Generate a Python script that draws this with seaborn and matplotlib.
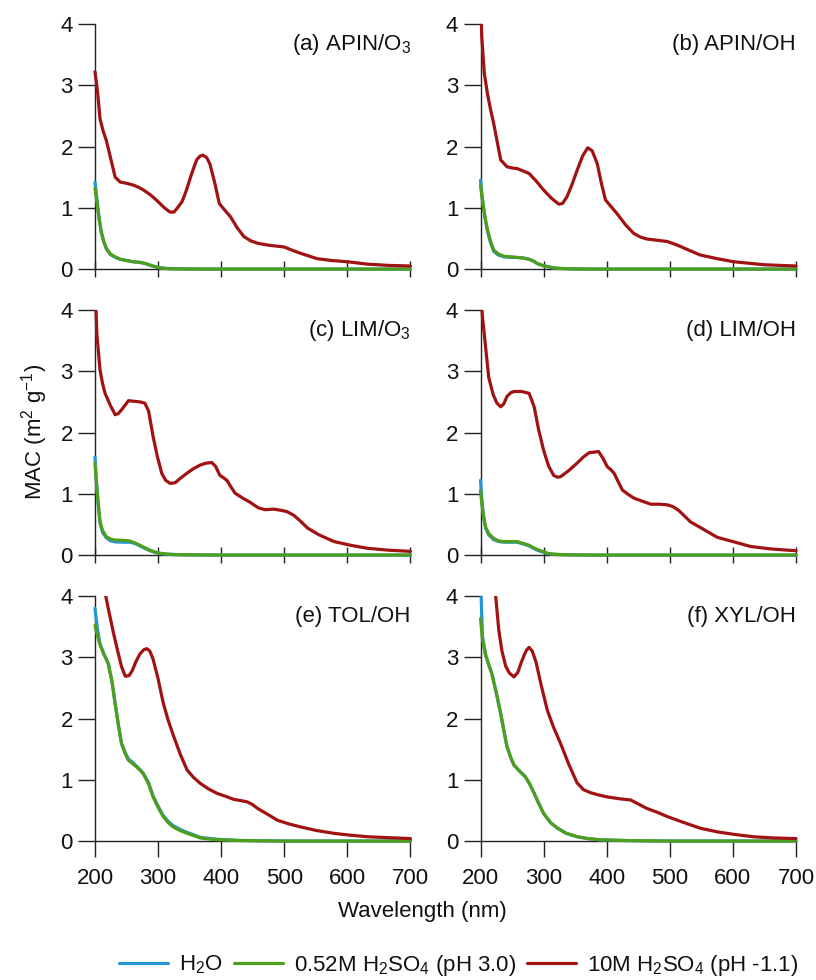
import matplotlib
matplotlib.use("Agg")
import matplotlib.pyplot as plt
from matplotlib.lines import Line2D
from matplotlib.transforms import Bbox, TransformedBbox
import numpy as np
import pandas as pd
import seaborn as sns

# ---- data (wavelength in nm, MAC in m2/g) ----
series_names = ['H$_2$O', '0.52M H$_2$SO$_4$ (pH 3.0)', '10M H$_2$SO$_4$ (pH -1.1)']
panel_titles = ['(a) APIN/O$_3$', '(b) APIN/OH', '(c) LIM/O$_3$',
                '(d) LIM/OH', '(e) TOL/OH', '(f) XYL/OH']

# (a) APIN/O3
a_wl = [200, 203, 206, 210, 214, 218, 224, 232, 240, 250, 260, 271, 280, 287, 295, 303, 315, 330, 360, 400, 500, 700]
a_h2o = [1.42, 1.15, 0.88, 0.6, 0.44, 0.33, 0.24, 0.19, 0.16, 0.14, 0.12, 0.11, 0.09, 0.065, 0.04, 0.02, 0.008, 0.003, 0.001, 0, 0, 0]
a_dil = [1.32, 1.1, 0.85, 0.6, 0.45, 0.34, 0.25, 0.2, 0.16, 0.14, 0.12, 0.11, 0.09, 0.065, 0.04, 0.02, 0.008, 0.003, 0.001, 0, 0, 0]
a_wl_red = [200, 204, 208, 213, 218, 225, 232, 240, 250, 261, 270, 277, 288, 298, 310, 319, 325, 330, 338, 345,
            353, 361, 366, 371, 377, 382, 390, 397, 405, 415, 425, 436, 447, 458, 475, 500, 512, 525, 540, 552,
            575, 600, 632, 665, 700]
a_red = [3.22, 2.9, 2.45, 2.25, 2.1, 1.8, 1.5, 1.42, 1.40, 1.37, 1.33, 1.29, 1.21, 1.12, 1.0, 0.93, 0.93, 0.99, 1.1, 1.29,
         1.55, 1.78, 1.84, 1.86, 1.82, 1.72, 1.4, 1.07, 0.97, 0.85, 0.68, 0.53, 0.46, 0.42, 0.39, 0.36, 0.31, 0.26, 0.21, 0.17,
         0.14, 0.12, 0.08, 0.06, 0.05]

# (b) APIN/OH
b_wl = [200, 203, 207, 211, 216, 221, 228, 237, 248, 258, 268, 277, 284, 290, 298, 306, 315, 327, 345, 380, 500, 700]
b_h2o = [1.45, 1.15, 0.85, 0.62, 0.42, 0.29, 0.23, 0.2, 0.19, 0.19, 0.18, 0.16, 0.13, 0.09, 0.06, 0.04, 0.02, 0.01, 0.003, 0, 0, 0]
b_dil = [1.37, 1.12, 0.85, 0.64, 0.45, 0.31, 0.25, 0.21, 0.2, 0.19, 0.18, 0.16, 0.13, 0.09, 0.06, 0.04, 0.02, 0.01, 0.003, 0, 0, 0]
b_wl_red = [200, 202, 206, 211, 216, 221, 227, 232, 242, 250, 258, 268, 277, 288, 300, 312, 324, 330, 337, 345,
            353, 362, 370, 377, 385, 392, 398, 406, 416, 430, 443, 454, 464, 480, 496, 512, 530, 548, 575, 601,
            650, 700]
b_red = [4.5, 3.79, 3.2, 2.86, 2.6, 2.37, 2.05, 1.78, 1.67, 1.65, 1.64, 1.60, 1.56, 1.44, 1.29, 1.16, 1.06, 1.07, 1.18, 1.38,
         1.61, 1.85, 1.98, 1.93, 1.72, 1.38, 1.13, 1.03, 0.91, 0.72, 0.58, 0.52, 0.49, 0.47, 0.45, 0.39, 0.31, 0.23, 0.17, 0.12,
         0.07, 0.05]

# (c) LIM/O3
c_wl = [200, 202, 205, 208, 212, 218, 225, 232, 245, 255, 263, 271, 279, 287, 295, 303, 315, 330, 360, 400, 500, 700]
c_h2o = [1.6, 1.25, 0.85, 0.52, 0.37, 0.28, 0.23, 0.215, 0.21, 0.21, 0.19, 0.15, 0.11, 0.07, 0.045, 0.025, 0.012, 0.006, 0.002, 0, 0, 0]
c_dil = [1.5, 1.2, 0.85, 0.55, 0.4, 0.3, 0.26, 0.245, 0.24, 0.23, 0.2, 0.16, 0.12, 0.08, 0.05, 0.03, 0.015, 0.008, 0.003, 0, 0, 0]
c_wl_red = [200, 203, 208, 212, 216, 224, 232, 237, 242, 248, 253, 262, 271, 279, 285, 292, 299, 306, 312, 319,
            327, 335, 345, 356, 367, 376, 385, 391, 398, 404, 409, 415, 422, 434, 446, 459, 470, 483, 495, 504,
            515, 525, 537, 555, 579, 605, 632, 665, 700]
c_red = [4.5, 3.6, 3.02, 2.8, 2.64, 2.45, 2.29, 2.31, 2.37, 2.45, 2.52, 2.51, 2.5, 2.48, 2.35, 1.94, 1.6, 1.33, 1.22, 1.17,
         1.18, 1.25, 1.33, 1.41, 1.47, 1.5, 1.51, 1.45, 1.3, 1.26, 1.22, 1.12, 1.01, 0.93, 0.86, 0.77, 0.74, 0.75, 0.73, 0.71,
         0.65, 0.56, 0.44, 0.33, 0.22, 0.16, 0.11, 0.08, 0.06]

# (d) LIM/OH
d_wl = [200, 202, 205, 208, 213, 221, 229, 237, 248, 258, 268, 277, 284, 290, 298, 306, 315, 327, 345, 380, 500, 700]
d_h2o = [1.22, 0.92, 0.62, 0.44, 0.33, 0.25, 0.22, 0.21, 0.21, 0.21, 0.18, 0.15, 0.11, 0.08, 0.05, 0.025, 0.012, 0.006, 0.002, 0, 0, 0]
d_dil = [1.05, 0.85, 0.62, 0.46, 0.35, 0.27, 0.23, 0.22, 0.22, 0.22, 0.19, 0.16, 0.12, 0.09, 0.06, 0.03, 0.015, 0.008, 0.003, 0, 0, 0]
d_wl_red = [200, 203, 208, 213, 220, 226, 232, 237, 242, 248, 253, 265, 277, 285, 292, 300, 308, 316, 322, 327,
            340, 353, 363, 372, 380, 387, 394, 401, 406, 412, 418, 425, 434, 443, 456, 470, 483, 496, 505, 514,
            524, 533, 550, 575, 600, 628, 660, 700]
d_red = [4.5, 3.9, 3.4, 2.9, 2.62, 2.48, 2.42, 2.47, 2.59, 2.65, 2.67, 2.67, 2.64, 2.42, 2.05, 1.71, 1.45, 1.3, 1.27, 1.28,
         1.38, 1.5, 1.6, 1.67, 1.68, 1.69, 1.58, 1.44, 1.4, 1.33, 1.2, 1.06, 0.99, 0.93, 0.88, 0.83, 0.83, 0.82, 0.79, 0.73,
         0.63, 0.54, 0.44, 0.29, 0.22, 0.14, 0.1, 0.07]

# (e) TOL/OH
e_wl = [200, 204, 208, 214, 221, 227, 232, 237, 242, 248, 253, 260, 266, 272, 277, 285, 292, 300, 308, 316,
        324, 335, 346, 357, 367, 383, 398, 430, 500, 700]
e_h2o = [3.8, 3.45, 3.22, 3.06, 2.9, 2.6, 2.24, 1.9, 1.6, 1.44, 1.34, 1.28, 1.22, 1.16, 1.1, 0.95, 0.74, 0.57, 0.42, 0.32,
         0.25, 0.19, 0.14, 0.1, 0.06, 0.04, 0.025, 0.01, 0, 0]
e_dil = [3.52, 3.35, 3.2, 3.05, 2.9, 2.6, 2.24, 1.9, 1.59, 1.42, 1.32, 1.26, 1.21, 1.15, 1.09, 0.93, 0.72, 0.55, 0.40, 0.3,
         0.23, 0.17, 0.125, 0.085, 0.05, 0.03, 0.02, 0.008, 0, 0]
e_wl_red = [212, 217, 223, 229, 236, 242, 248, 254, 259, 265, 271, 277, 282, 287, 292, 300, 308, 316, 324, 335,
            346, 356, 367, 380, 393, 407, 420, 431, 441, 449, 458, 473, 489, 507, 526, 552, 579, 605, 632, 665,
            700]
e_red = [4.3, 4.0, 3.7, 3.41, 3.1, 2.85, 2.69, 2.7, 2.78, 2.93, 3.05, 3.12, 3.14, 3.1, 2.97, 2.65, 2.26, 1.97, 1.73, 1.42,
         1.16, 1.04, 0.94, 0.85, 0.78, 0.73, 0.68, 0.66, 0.64, 0.6, 0.53, 0.44, 0.34, 0.28, 0.23, 0.17, 0.125, 0.095, 0.07, 0.055,
         0.04]

# (f) XYL/OH
f_wl = [200, 203, 208, 213, 218, 225, 232, 237, 242, 248, 253, 262, 271, 278, 285, 292, 300, 311, 322, 335,
        353, 370, 390, 430, 500, 700]
f_h2o = [4.3, 3.35, 3.05, 2.88, 2.73, 2.42, 2.08, 1.8, 1.54, 1.36, 1.24, 1.14, 1.05, 0.93, 0.78, 0.62, 0.45, 0.3, 0.21, 0.13,
         0.07, 0.04, 0.02, 0.008, 0, 0]
f_dil = [3.63, 3.3, 3.03, 2.88, 2.73, 2.42, 2.08, 1.8, 1.54, 1.36, 1.24, 1.14, 1.05, 0.93, 0.78, 0.62, 0.45, 0.3, 0.21, 0.13,
         0.07, 0.04, 0.02, 0.008, 0, 0]
f_wl_red = [220, 224, 229, 234, 240, 246, 253, 259, 264, 269, 273, 277, 282, 288, 296, 306, 316, 327, 340, 353,
            363, 374, 388, 401, 420, 438, 451, 464, 480, 496, 520, 548, 575, 601, 632, 665, 700]
f_red = [4.4, 4.0, 3.44, 3.1, 2.85, 2.74, 2.68, 2.75, 2.9, 3.03, 3.12, 3.16, 3.1, 2.92, 2.55, 2.13, 1.85, 1.59, 1.25, 0.95,
         0.84, 0.79, 0.75, 0.72, 0.69, 0.67, 0.6, 0.53, 0.47, 0.4, 0.31, 0.21, 0.15, 0.11, 0.07, 0.05, 0.04]

panels = [
    (a_wl, a_h2o, a_dil, a_wl_red, a_red),
    (b_wl, b_h2o, b_dil, b_wl_red, b_red),
    (c_wl, c_h2o, c_dil, c_wl_red, c_red),
    (d_wl, d_h2o, d_dil, d_wl_red, d_red),
    (e_wl, e_h2o, e_dil, e_wl_red, e_red),
    (f_wl, f_h2o, f_dil, f_wl_red, f_red),
]

colors = ['#2196d8', '#4f9e1c', '#a11212']
fs = 16

# long-form table for seaborn
rows = []
for p, (wl, h2o, dil, wl_red, red) in enumerate(panels):
    for w, v in zip(wl, h2o):
        rows.append((p, series_names[0], w, v))
    for w, v in zip(wl, dil):
        rows.append((p, series_names[1], w, v))
    for w, v in zip(wl_red, red):
        rows.append((p, series_names[2], w, v))
df = pd.DataFrame(rows, columns=['panel', 'series', 'wl', 'mac'])

sns.set_style('ticks')
plt.rcParams['font.family'] = ['Liberation Sans', 'DejaVu Sans']
plt.rcParams['mathtext.default'] = 'regular'
plt.rcParams['font.size'] = fs
plt.rcParams['text.color'] = '#111111'
plt.rcParams['xtick.labelcolor'] = '#111111'
plt.rcParams['ytick.labelcolor'] = '#111111'

fig, axes = plt.subplots(3, 2, figsize=(8.16, 9.8), dpi=100)
fig.subplots_adjust(left=0.1164, right=0.9755, bottom=0.1418, top=0.9755, wspace=0.222, hspace=0.167)

for p, ax in enumerate(axes.flat):
    sub = df[df['panel'] == p]
    sns.lineplot(data=sub, x='wl', y='mac', hue='series', hue_order=series_names,
                 palette=colors, estimator=None, sort=False, legend=False, ax=ax, lw=2.3)
    clip = TransformedBbox(Bbox([[-0.01, -0.03], [1.01, 1.0]]), ax.transAxes)
    for ln in ax.get_lines():
        ln.set_clip_box(clip)
        ln.set_zorder(3)
    ax.set_xlim(200, 700)
    ax.set_ylim(0, 4)
    ax.set_xticks([200, 300, 400, 500, 600, 700])
    ax.set_yticks([0, 1, 2, 3, 4])
    ax.set_xlabel('')
    ax.set_ylabel('')
    sns.despine(ax=ax)
    for s in ['left', 'bottom']:
        ax.spines[s].set_linewidth(1.0)
        ax.spines[s].set_color('#222222')
    ax.tick_params(axis='y', direction='out', length=12, width=1.0, pad=4, labelsize=fs, color='#222222')
    if p >= 4:
        ax.tick_params(axis='x', direction='out', length=11.5, width=1.0, pad=8, labelsize=fs, color='#222222')
    else:
        ax.tick_params(axis='x', direction='inout', length=11.5, width=1.0, labelbottom=False, color='#222222')
    ax.text(1.0, 0.915, panel_titles[p], transform=ax.transAxes, ha='right', va='center', fontsize=fs)

fig.text(0.042, 0.559, 'MAC (m$^{2}$ g$^{-1}$)', rotation=90, ha='center', va='center', fontsize=fs)
fig.text(0.518, 1 - 912 / 980, 'Wavelength (nm)', ha='center', va='center', fontsize=fs)

handles = [Line2D([0], [0], color=c, lw=2.3) for c in colors]
fig.legend(handles, series_names, loc='center', bbox_to_anchor=(0.562, 1 - 965 / 980), ncol=3,
           frameon=False, handlelength=2.2, handletextpad=0.5, columnspacing=0.5, fontsize=fs)

fig.savefig('out.png', dpi=100)
